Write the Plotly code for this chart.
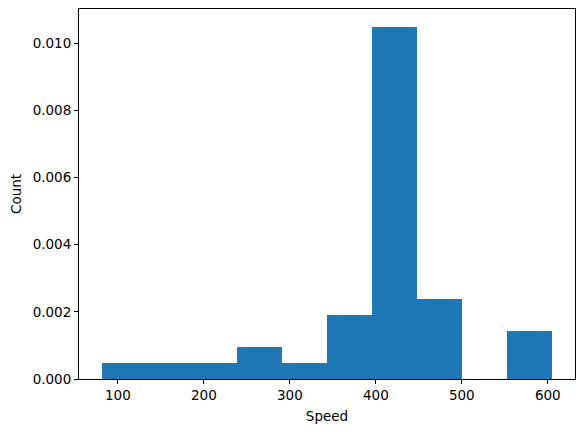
import numpy as np
import plotly.graph_objects as go

# histogram: 10 equal bins, density normalised
bin_edges = [81.0, 133.44, 185.88, 238.32, 290.76, 343.2, 395.64, 448.08, 500.52, 552.96, 605.4]
counts = [1, 1, 1, 2, 1, 4, 22, 5, 0, 3]

edges = np.array(bin_edges)
widths = np.diff(edges)
centers = edges[:-1] + widths / 2
density = np.array(counts) / (sum(counts) * widths)

fig = go.Figure(
    go.Bar(
        x=centers,
        y=density,
        width=widths,
        marker_color="#1f77b4",
        marker_line_width=0,
    )
)

label_font = dict(family="DejaVu Sans", size=13.5, color="black")

axis_style = dict(
    showline=True,
    linecolor="black",
    linewidth=1,
    mirror=True,
    ticks="outside",
    ticklen=4,
    tickcolor="black",
    showgrid=False,
    zeroline=False,
    automargin=False,
    tickfont=label_font,
)

# the page body adds an 8px margin, so the figure is 8px smaller to fit the window
fig.update_layout(
    width=576,
    height=424,
    margin=dict(l=71, r=9, t=1, b=53),
    plot_bgcolor="white",
    paper_bgcolor="white",
    showlegend=False,
    bargap=0,
    font=label_font,
    xaxis=dict(
        axis_style,
        range=[54.8, 631.6],
        tickvals=[100, 200, 300, 400, 500, 600],
        title=dict(text="Speed", font=label_font, standoff=9),
    ),
    yaxis=dict(
        axis_style,
        range=[0, 0.011025],
        tickvals=[0, 0.002, 0.004, 0.006, 0.008, 0.010],
        tickformat=".3f",
        title=dict(text="Count", font=label_font, standoff=10),
    ),
)

fig.write_html("out.html")
